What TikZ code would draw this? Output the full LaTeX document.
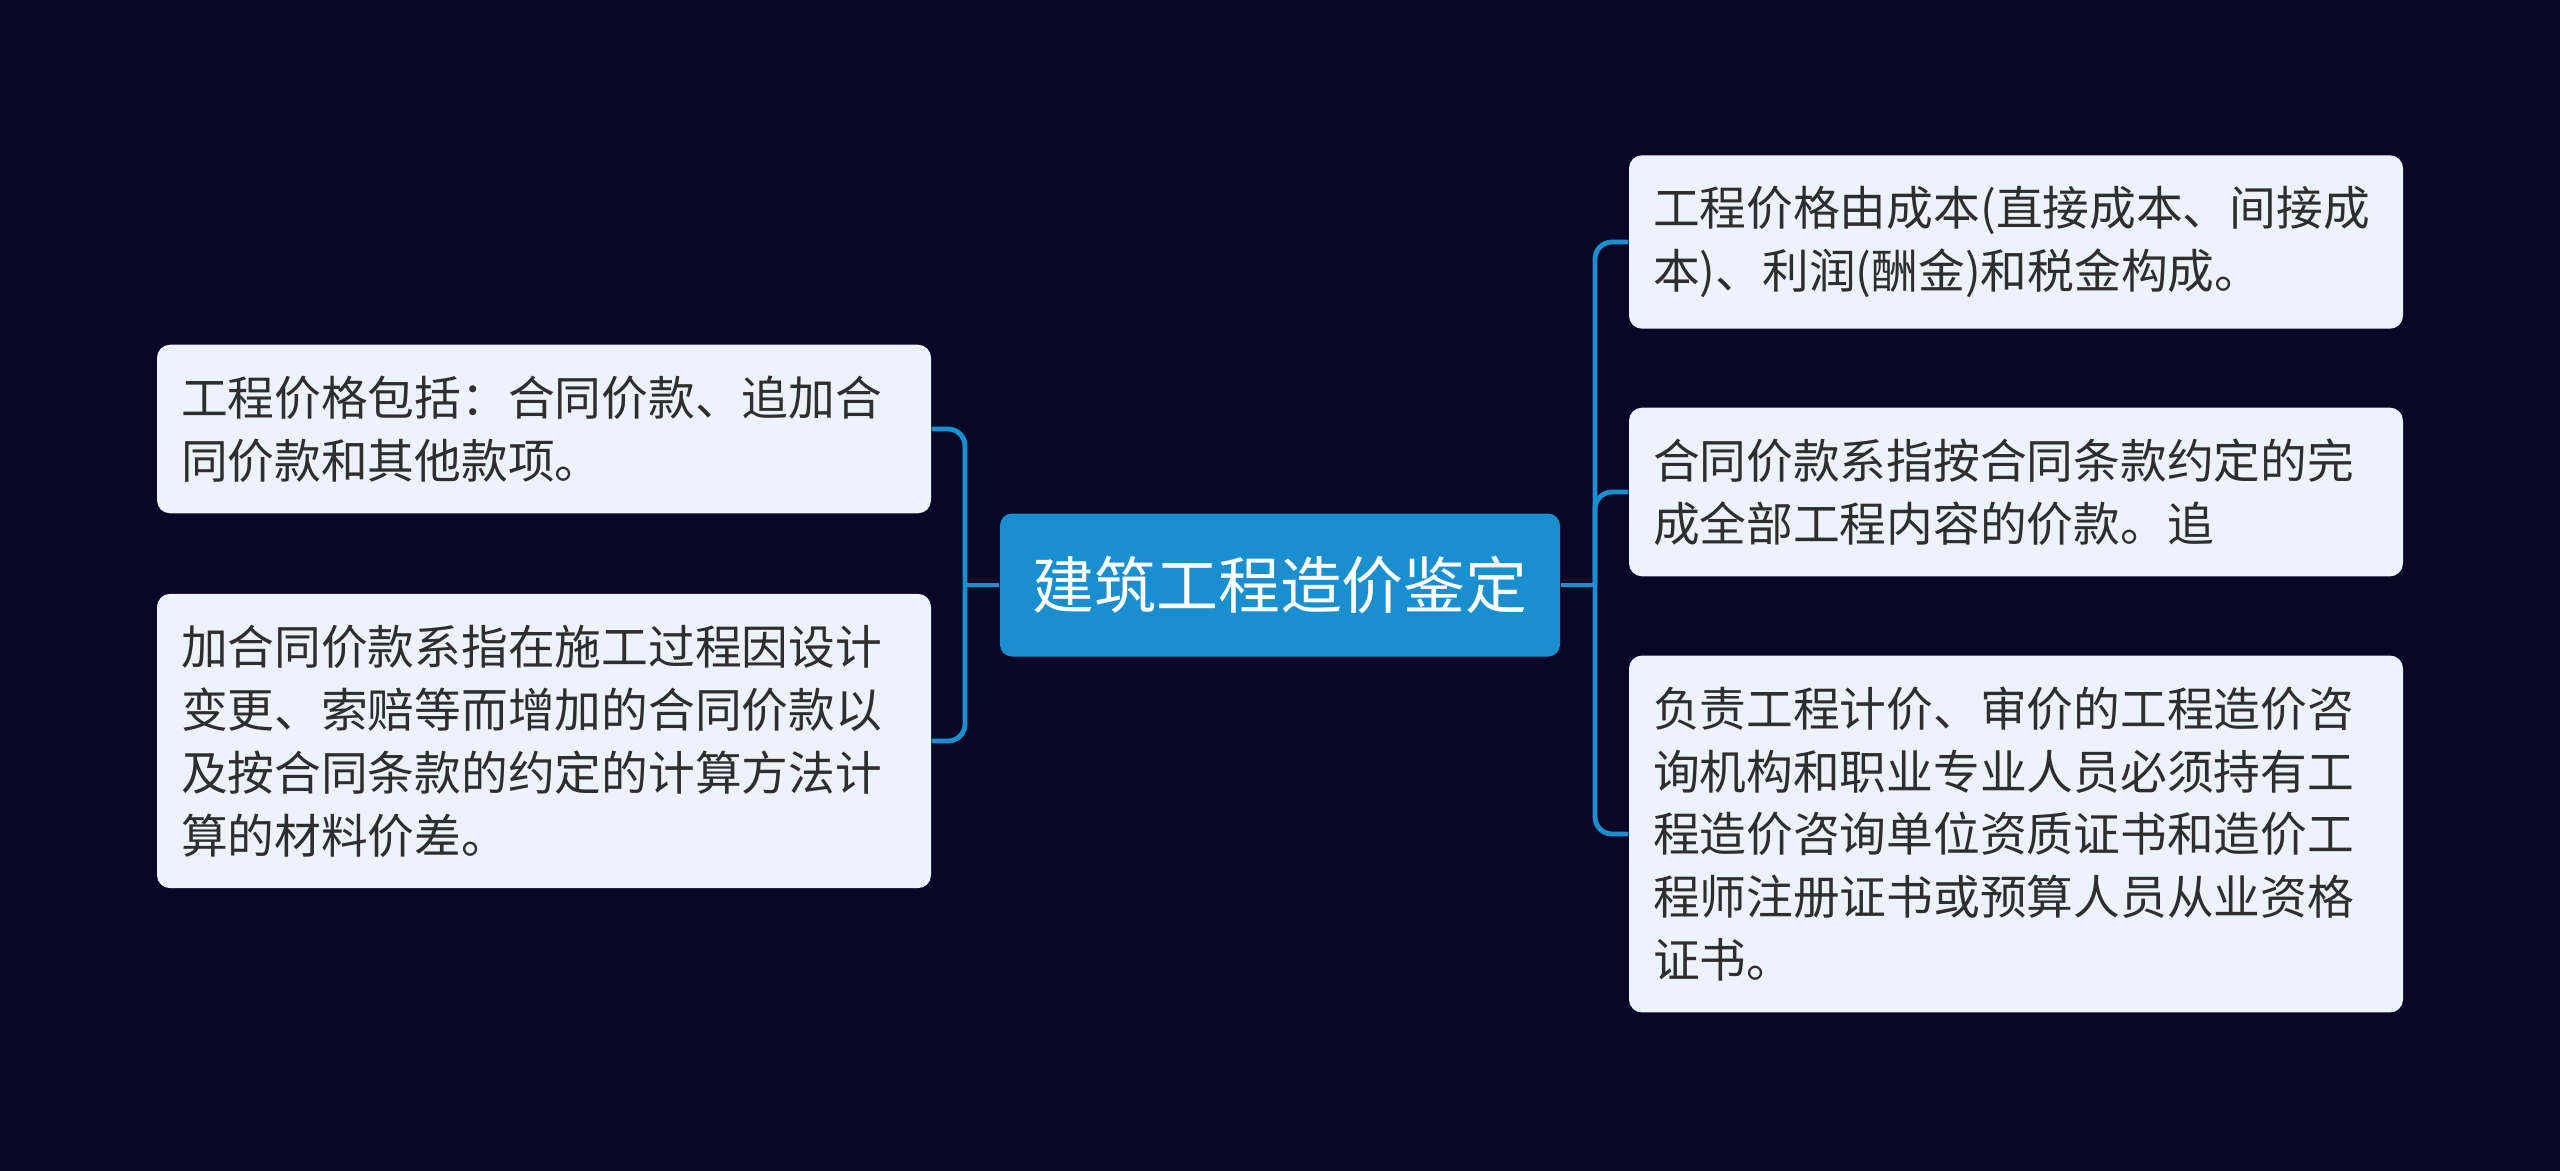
\documentclass[tikz,border=0pt]{standalone}
\usepackage{fontspec}
\setmainfont{Noto Sans CJK SC}
\usepackage{xcolor}
\definecolor{fond}{HTML}{0A0628}
\definecolor{bleu}{HTML}{1A8FD0}
\definecolor{cfeuille}{HTML}{EDF3FD}
\definecolor{texte}{HTML}{2E2E2E}

\begin{document}
\begin{tikzpicture}[x=0.1mm,y=-0.1mm,
  racine/.style={fill=bleu, rounded corners=1.2mm, text=white, minimum width=56mm, minimum height=14.3mm, inner sep=0pt, font=\fontsize{17.6}{21}\selectfont},
  feuille/.style={fill=cfeuille, rounded corners=1.3mm, text=texte, text width=72.6mm, align=left, inner xsep=2.4mm, inner ysep=3.1mm, font=\fontsize{13.3}{17.9}\selectfont},
  lien/.style={draw=bleu, line width=1.4pt, rounded corners=1.7mm}]
%fond
\fill[fond] (0,0) rectangle (2560,1171);
\useasboundingbox (0,0) rectangle (2560,1171);

\node[racine] (root) at (1280,585) {建筑工程造价鉴定};

%gauche
\node[feuille] (l1) at (544,429) {工程价格包括：合同价款、追加合\\同价款和其他款项。};
\node[feuille] (l2) at (544,741) {加合同价款系指在施工过程因设计\\变更、索赔等而增加的合同价款以\\及按合同条款的约定的计算方法计\\算的材料价差。};

%droite
\node[feuille] (r1) at (2016,242) {工程价格由成本(直接成本、间接成\\本)、利润(酬金)和税金构成。};
\node[feuille] (r2) at (2016,492) {合同价款系指按合同条款约定的完\\成全部工程内容的价款。追};
\node[feuille] (r3) at (2016,834) {负责工程计价、审价的工程造价咨\\询机构和职业专业人员必须持有工\\程造价咨询单位资质证书和造价工\\程师注册证书或预算人员从业资格\\证书。};

%liens
\coordinate (jg) at (965,585);
\coordinate (jd) at (1595,585);
\draw[lien] (root.west) -- (jg);
\draw[lien] (l1.east) -| (jg);
\draw[lien] (l2.east) -| (jg);
\draw[lien] (root.east) -- (jd);
\foreach \n in {r1,r2,r3}
  \draw[lien] (\n.west) -| (jd);
\end{tikzpicture}
\end{document}
